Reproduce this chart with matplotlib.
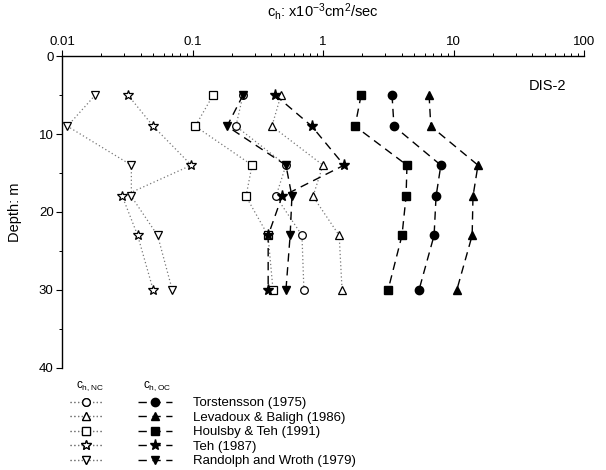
import matplotlib
matplotlib.use("Agg")
import matplotlib.pyplot as plt
from matplotlib.ticker import LogLocator, FixedLocator, MultipleLocator, FuncFormatter

plt.rcParams['font.family'] = ['Liberation Sans', 'DejaVu Sans']
plt.rcParams['mathtext.default'] = 'regular'

depth = [5, 9, 14, 18, 23, 30]

names = ["Torstensson (1975)", "Levadoux & Baligh (1986)", "Houlsby & Teh (1991)",
         "Teh (1987)", "Randolph and Wroth (1979)"]
markers = ['o', '^', 's', '*', 'v']

# c_h,NC (open markers, dotted)
torst_nc = [0.244, 0.215, 0.52, 0.436, 0.69, 0.714]
lev_nc = [0.477, 0.406, 1.00, 0.838, 1.33, 1.40]
houl_nc = [0.144, 0.105, 0.286, 0.257, 0.379, 0.414]
teh_nc = [0.032, 0.050, 0.098, 0.029, 0.038, 0.050]
rand_nc = [0.018, 0.011, 0.034, 0.034, 0.054, 0.070]

# c_h,OC (filled markers, dashed)
torst_oc = [3.38, 3.50, 8.0, 7.35, 7.1, 5.44]
lev_oc = [6.5, 6.7, 15.4, 14.1, 13.9, 10.6]
houl_oc = [1.96, 1.76, 4.40, 4.33, 4.03, 3.15]
teh_oc = [0.43, 0.82, 1.45, 0.485, 0.38, 0.38]
rand_oc = [0.244, 0.184, 0.52, 0.578, 0.56, 0.52]

nc_series = [torst_nc, lev_nc, houl_nc, teh_nc, rand_nc]
oc_series = [torst_oc, lev_oc, houl_oc, teh_oc, rand_oc]

fig = plt.figure(figsize=(6.06, 4.70), dpi=100)
ax = fig.add_axes([62/606, 1-368/470, 522/606, 312/470])

nc_handles = []
oc_handles = []
for vals, m in zip(nc_series, markers):
    ms = 7.5 if m == '*' else 5.5
    h, = ax.plot(vals, depth, linestyle=(0, (1, 2)), color='#777777', lw=0.9,
                 marker=m, markersize=ms, markerfacecolor='white',
                 markeredgecolor='black', markeredgewidth=0.9, zorder=3)
    nc_handles.append(h)
for vals, m in zip(oc_series, markers):
    ms = 8 if m == '*' else 6
    h, = ax.plot(vals, depth, linestyle=(0, (6, 4)), color='black', lw=1.0,
                 marker=m, markersize=ms, markerfacecolor='black',
                 markeredgecolor='black', zorder=4)
    oc_handles.append(h)

ax.set_xscale('log')
ax.set_xlim(0.01, 100)
ax.set_ylim(40, 0)

ax.xaxis.tick_top()
ax.xaxis.set_label_position('top')
ax.xaxis.set_major_locator(FixedLocator([0.01, 0.1, 1, 10, 100]))
ax.xaxis.set_major_formatter(FuncFormatter(lambda v, p: f"{v:g}"))
ax.xaxis.set_minor_locator(LogLocator(base=10, subs=range(2, 10)))
ax.set_yticks([0, 10, 20, 30, 40])
ax.yaxis.set_minor_locator(MultipleLocator(5))

for s in ['bottom', 'right']:
    ax.spines[s].set_visible(False)
for s in ['top', 'left']:
    ax.spines[s].set_linewidth(1.0)

ax.tick_params(axis='both', which='major', direction='out', length=4, width=0.8, labelsize=9.5, pad=2)
ax.tick_params(axis='both', which='minor', direction='out', length=2.5, width=0.7)
ax.tick_params(axis='x', which='both', top=True, bottom=False)

ax.set_xlabel(r'c$_{h}$: x10$^{-3}$cm$^{2}$/sec', fontsize=10.5, labelpad=14)
ax.set_ylabel('Depth: m', fontsize=10.5, labelpad=12)

ax.text(0.93, 0.905, 'DIS-2', transform=ax.transAxes, ha='center', va='center', fontsize=10.5)

# legend
fig.text(90/606, 1-386/470, r'c$_{h,NC}$', ha='center', va='center', fontsize=8.5)
fig.text(157/606, 1-386/470, r'c$_{h,OC}$', ha='center', va='center', fontsize=8.5)

leg1 = fig.legend(handles=nc_handles, labels=['']*5, loc='upper left',
                  bbox_to_anchor=(70/606, 1-397/470), frameon=False,
                  handlelength=2.5, labelspacing=0.17, fontsize=9.5,
                  handletextpad=0, borderpad=0, borderaxespad=0)
fig.add_artist(leg1)
leg2 = fig.legend(handles=oc_handles, labels=names, loc='upper left',
                  bbox_to_anchor=(138/606, 1-397/470), frameon=False,
                  handlelength=2.6, labelspacing=0.17, fontsize=9.5,
                  handletextpad=1.6, borderpad=0, borderaxespad=0)

fig.savefig('out.png', dpi=100)
